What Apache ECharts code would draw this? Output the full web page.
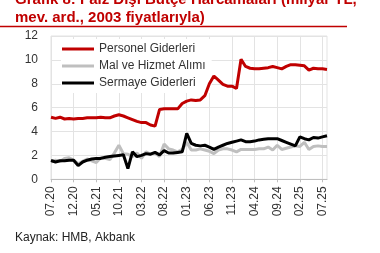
<!DOCTYPE html>
<html>
<head>
<meta charset="utf-8">
<script src="https://cdn.jsdelivr.net/npm/echarts@6/dist/echarts.min.js"></script>
<style>
html,body{margin:0;padding:0;background:#fff;}
#c{width:380px;height:253px;}
</style>
</head>
<body>
<div id="c"></div>
<script>
var categories = ['07.20','08.20','09.20','10.20','11.20','12.20','01.21','02.21','03.21','04.21','05.21','06.21','07.21','08.21','09.21','10.21','11.21','12.21','01.22','02.22','03.22','04.22','05.22','06.22','07.22','08.22','09.22','10.22','11.22','12.22','01.23','02.23','03.23','04.23','05.23','06.23','07.23','08.23','09.23','10.23','11.23','12.23','01.24','02.24','03.24','04.24','05.24','06.24','07.24','08.24','09.24','10.24','11.24','12.24','01.25','02.25','03.25','04.25','05.25','06.25','07.25','08.25'];

var personel = [5.2,5.1,5.2,5.05,5.1,5.05,5.1,5.1,5.15,5.15,5.15,5.2,5.15,5.15,5.3,5.4,5.3,5.15,5.0,4.85,4.75,4.75,4.55,4.45,5.85,5.9,5.9,5.9,5.9,6.35,6.55,6.65,6.6,6.65,7.0,8.0,8.65,8.3,7.95,7.8,7.8,7.6,10.05,9.45,9.3,9.25,9.25,9.3,9.35,9.45,9.35,9.25,9.45,9.6,9.6,9.55,9.5,9.15,9.3,9.25,9.25,9.2];

var malHizmet = [1.45,1.6,1.5,1.75,1.8,1.6,1.3,1.5,1.7,1.55,1.4,1.8,1.75,1.65,2.2,2.85,2.15,2.1,1.9,2.2,1.75,2.3,2.1,2.2,1.9,2.95,2.55,2.45,2.3,2.5,3.1,2.45,2.45,2.55,2.45,2.35,2.15,2.45,2.55,2.55,2.45,2.3,2.5,2.5,2.5,2.5,2.55,2.55,2.7,2.45,2.85,2.5,2.6,2.7,2.8,2.75,3.1,2.5,2.75,2.8,2.75,2.75];

var sermaye = [1.57,1.45,1.55,1.55,1.6,1.6,1.15,1.45,1.6,1.7,1.75,1.75,1.85,1.9,1.95,2.0,2.05,0.9,2.3,1.9,2.0,2.15,2.1,2.25,2.05,2.4,2.2,2.2,2.25,2.3,3.85,3.0,2.85,2.8,2.85,2.7,2.5,2.7,2.85,3.0,3.1,3.2,3.3,3.15,3.15,3.2,3.3,3.35,3.4,3.4,3.4,3.25,3.1,2.95,2.8,3.55,3.4,3.3,3.5,3.45,3.55,3.65];

var seriesNames = ['Personel Giderleri','Mal ve Hizmet Alımı','Sermaye Giderleri'];
var titleLines = ['Grafik 8: Faiz Dışı Bütçe Harcamaları (milyar TL,','mev. ard., 2003 fiyatlarıyla)'];
var sourceText = 'Kaynak: HMB, Akbank';

var FONT = 'Liberation Sans, Arial, sans-serif';
var chart = echarts.init(document.getElementById('c'), null, {renderer:'canvas'});
chart.setOption({
  animation:false,
  backgroundColor:'#fff',
  grid:{left:51,right:53,top:36,bottom:73.7,show:true,borderColor:'#e3e3e3',borderWidth:1},
  legend:{
    data:seriesNames,
    orient:'vertical',
    left:61, top:39,
    padding:[3,6,3,1],
    backgroundColor:'#fff',
    icon:'rect', itemWidth:32, itemHeight:3, itemGap:3,
    textStyle:{fontFamily:FONT,fontSize:12,color:'#333',lineHeight:14}
  },
  xAxis:{
    type:'category', data:categories, boundaryGap:false,
    axisLine:{lineStyle:{color:'#bfbfbf',width:1}},
    axisTick:{show:true,interval:4,length:3,lineStyle:{color:'#bfbfbf'}},
    axisLabel:{interval:4,rotate:90,fontFamily:FONT,fontSize:12,color:'#333',margin:7},
    splitLine:{show:true,interval:4,lineStyle:{color:'#e3e3e3',width:1}}
  },
  yAxis:{
    type:'value', min:0, max:12, interval:2,
    axisLine:{show:false}, axisTick:{show:false},
    axisLabel:{fontFamily:FONT,fontSize:12,color:'#333',margin:13},
    splitLine:{lineStyle:{color:'#e3e3e3',width:1}}
  },
  series:[
    {name:seriesNames[1],type:'line',data:malHizmet,symbol:'none',z:2,lineStyle:{color:'#bfbfbf',width:3},itemStyle:{color:'#bfbfbf'}},
    {name:seriesNames[2],type:'line',data:sermaye,symbol:'none',z:3,lineStyle:{color:'#000',width:3},itemStyle:{color:'#000'}},
    {name:seriesNames[0],type:'line',data:personel,symbol:'none',z:4,lineStyle:{color:'#c00000',width:3},itemStyle:{color:'#c00000'}}
  ],
  graphic:[
    {type:'text',left:15,top:-8,style:{text:titleLines[0],fontFamily:FONT,fontSize:15,fontWeight:'bold',fill:'#c00000'}},
    {type:'text',left:15,top:10,style:{text:titleLines[1],fontFamily:FONT,fontSize:15,fontWeight:'bold',fill:'#c00000'}},
    {type:'line',shape:{x1:0,y1:26.5,x2:347,y2:26.5},style:{stroke:'#c00000',lineWidth:1.5}},
    {type:'text',left:15,top:232,style:{text:sourceText,fontFamily:FONT,fontSize:12,fill:'#222'}}
  ]
});
</script>
</body>
</html>
